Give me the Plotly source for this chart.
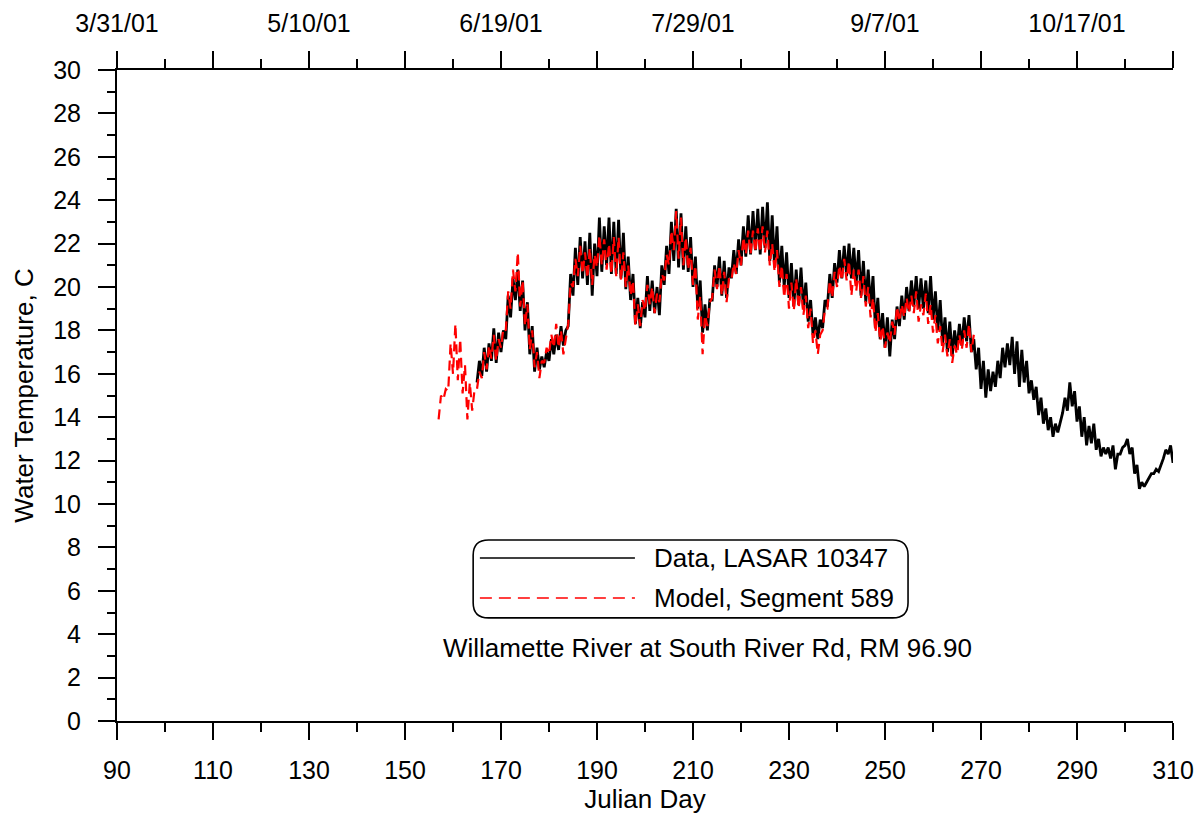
import plotly.graph_objects as go

# Daily high / low water temperature (C)
# Data, LASAR 10347 : day 165 .. 310
data_days = list(range(165, 311))
data_hi = [16.6, 17.2, 17.4, 18.1, 17.9, 18.0, 19.6, 20.4, 20.8, 20.3,
           19.3, 18.2, 17.2, 16.8, 17.0, 17.6, 17.8, 18.2, 18.0, 20.6,
           21.8, 22.3, 22.1, 22.5, 22.0, 23.2, 22.8, 23.2, 23.0, 23.1,
           22.5, 21.4, 20.6, 19.5, 19.3, 20.5, 20.3, 20.0, 21.0, 21.9,
           23.0, 23.6, 23.4, 22.8, 22.3, 21.4, 20.3, 19.2, 19.4, 21.0,
           21.4, 21.2, 20.9, 21.7, 22.2, 22.8, 23.3, 23.5, 23.6, 23.7,
           23.9, 23.3, 22.8, 21.9, 21.6, 21.1, 20.8, 20.9, 20.2, 19.4,
           18.6, 18.5, 19.4, 20.6, 21.1, 21.7, 21.9, 22.0, 21.8, 21.7,
           21.2, 20.8, 20.5, 19.5, 18.8, 18.6, 18.5, 19.1, 19.6, 20.0,
           20.3, 20.5, 20.4, 20.3, 20.5, 19.8, 19.4, 18.6, 18.4, 18.0,
           18.3, 18.6, 18.7, 17.6, 17.2, 16.6, 16.2, 16.1, 16.6, 17.2,
           17.4, 17.7, 17.5, 17.1, 16.6, 15.7, 15.4, 14.9, 14.4, 14.0,
           13.7, 13.8, 14.9, 15.6, 15.2, 14.5, 14.0, 13.6, 13.7, 13.0,
           12.6, 12.6, 12.7, 12.3, 12.6, 13.0, 12.6, 11.8, 11.0, 11.0,
           11.4, 11.6, 11.8, 12.5, 12.7, 12.2]
data_lo = [15.6, 15.9, 16.1, 16.6, 16.5, 17.0, 17.6, 18.6, 19.4, 18.9,
           18.0, 16.9, 16.1, 16.2, 16.3, 16.6, 16.9, 17.1, 17.3, 18.2,
           19.6, 20.1, 20.4, 20.1, 19.6, 20.5, 20.7, 21.0, 20.6, 20.6,
           20.4, 19.9, 19.4, 18.3, 18.1, 18.6, 18.9, 18.8, 18.7, 20.1,
           20.6, 21.2, 20.9, 20.8, 20.7, 20.0, 19.0, 17.9, 18.0, 19.4,
           20.0, 19.6, 19.5, 20.4, 20.6, 21.0, 21.4, 21.5, 21.7, 21.5,
           21.8, 21.2, 20.9, 20.2, 20.0, 19.5, 19.1, 19.2, 19.0, 18.4,
           17.8, 17.6, 18.1, 19.1, 19.5, 20.2, 20.4, 20.5, 20.4, 20.2,
           19.6, 19.3, 19.1, 18.1, 17.6, 17.2, 16.8, 17.6, 18.2, 18.5,
           18.9, 19.1, 19.0, 19.0, 18.8, 18.5, 18.0, 17.4, 17.0, 16.8,
           17.1, 17.3, 17.5, 17.0, 16.2, 15.3, 14.9, 15.2, 15.4, 15.8,
           16.3, 16.4, 16.0, 15.4, 15.6, 15.1, 14.8, 14.1, 13.7, 13.4,
           13.1, 13.3, 14.2, 14.3, 14.5, 13.8, 13.1, 12.7, 12.8, 12.5,
           12.2, 12.3, 12.1, 11.6, 12.3, 12.7, 12.3, 11.4, 10.7, 10.8,
           11.2, 11.4, 11.5, 12.1, 12.3, 11.9]

# Model, Segment 589 : day 157 .. 268
model_days = list(range(157, 269))
model_hi = [15.0, 15.3, 17.4, 18.3, 17.6, 16.4, 15.6, 15.3, 16.1, 17.0,
            17.3, 17.8, 17.6, 18.1, 19.8, 20.8, 21.6, 20.3, 19.2, 18.0,
            17.0, 16.6, 17.2, 17.8, 18.3, 18.0, 17.7, 20.2, 21.3, 21.9,
            21.6, 21.8, 21.5, 22.4, 22.2, 22.0, 22.3, 22.3, 21.6, 21.0,
            20.3, 19.2, 19.4, 20.1, 20.0, 19.7, 20.6, 21.5, 22.6, 23.5,
            23.2, 22.3, 21.8, 21.0, 19.6, 18.7, 19.3, 20.8, 21.0, 20.7,
            20.4, 21.1, 21.7, 22.3, 22.6, 22.6, 22.7, 22.8, 22.6, 22.0,
            21.7, 21.0, 20.6, 20.2, 20.4, 20.0, 19.6, 19.0, 18.0, 17.8,
            19.0, 20.3, 20.7, 21.0, 21.3, 21.2, 20.8, 20.8, 20.5, 20.0,
            19.5, 18.8, 18.2, 17.9, 18.4, 19.1, 19.2, 19.5, 19.6, 19.8,
            19.2, 19.7, 19.2, 18.7, 18.2, 17.8, 17.6, 17.3, 17.8, 18.0,
            18.3, 17.8]
model_lo = [13.9, 14.8, 15.2, 16.0, 15.7, 15.1, 13.9, 14.3, 15.3, 15.8,
            16.2, 16.7, 16.6, 17.2, 18.0, 19.0, 19.8, 19.1, 18.2, 17.1,
            16.3, 15.8, 16.5, 16.9, 17.2, 17.2, 16.9, 18.3, 20.0, 20.5,
            20.6, 20.4, 20.1, 20.9, 21.0, 20.8, 20.6, 20.5, 20.3, 20.0,
            19.6, 18.2, 18.2, 18.9, 19.2, 18.8, 19.3, 20.3, 21.0, 21.7,
            21.3, 21.0, 20.8, 20.1, 18.5, 16.9, 18.2, 19.5, 19.9, 19.6,
            19.3, 20.3, 20.6, 21.0, 21.5, 21.5, 21.6, 21.6, 21.6, 21.0,
            20.7, 20.0, 19.5, 19.0, 18.9, 19.0, 18.7, 18.1, 17.4, 16.9,
            18.0, 19.0, 19.5, 20.0, 20.3, 20.3, 19.6, 19.8, 19.5, 19.1,
            18.6, 17.9, 17.5, 17.2, 17.4, 17.8, 18.4, 18.6, 18.8, 18.8,
            18.4, 18.7, 18.3, 17.9, 17.4, 17.0, 16.8, 16.5, 16.9, 17.1,
            17.2, 17.0]

bottom_ticks = [90, 110, 130, 150, 170, 190, 210, 230, 250, 270, 290, 310]
top_ticks = [90, 110, 130, 150, 170, 190, 210, 230, 250, 270, 290, 310]
top_labels = ["3/31/01", "", "5/10/01", "", "6/19/01", "", "7/29/01", "",
              "9/7/01", "", "10/17/01", ""]


# low in the morning, high in the afternoon -> one zigzag per day
def daily_series(days, hi, lo):
    xs, ys = [], []
    for d, h, l in zip(days, hi, lo):
        xs += [d, d + 0.5]
        ys += [l, h]
    return xs, ys


FONT = "Liberation Sans, Arial, sans-serif"

dx, dy = daily_series(data_days, data_hi, data_lo)
mx, my = daily_series(model_days, model_hi, model_lo)

fig = go.Figure()
fig.add_trace(go.Scatter(x=dx, y=dy, mode="lines", name="Data, LASAR 10347",
                         line=dict(color="black", width=2.8)))
fig.add_trace(go.Scatter(x=mx, y=my, mode="lines", name="Model, Segment 589",
                         line=dict(color="red", width=2.2, dash="10px,6px")))
# dummy trace so the top date axis gets drawn
fig.add_trace(go.Scatter(x=[90], y=[None], xaxis="x2", showlegend=False,
                         hoverinfo="skip"))

axis_common = dict(showline=True, linecolor="black", linewidth=2,
                   ticks="outside", ticklen=17, tickwidth=2, tickcolor="black",
                   showgrid=False, zeroline=False, automargin=False,
                   tickfont=dict(family=FONT, size=25, color="black"))

# page body has an 8px margin, so the figure is a bit smaller than the window
fig.update_layout(
    width=1195, height=809,
    margin=dict(l=109, r=30, t=62, b=96),
    plot_bgcolor="white", paper_bgcolor="white",
    showlegend=False,
    font=dict(family=FONT, size=25, color="black"),
    xaxis=dict(range=[90, 310], tickmode="array", tickvals=bottom_ticks,
               ticklabelstandoff=9,
               minor=dict(dtick=10, tick0=90, ticks="outside", ticklen=9,
                          tickwidth=2, tickcolor="black"),
               title=dict(text="Julian Day", standoff=4,
                          font=dict(family=FONT, size=26)),
               **axis_common),
    xaxis2=dict(range=[90, 310], overlaying="x", side="top", anchor="y",
                tickmode="array", tickvals=top_ticks, ticktext=top_labels,
                ticklabelstandoff=9,
                minor=dict(dtick=10, tick0=90, ticks="outside", ticklen=9,
                           tickwidth=2, tickcolor="black"),
                **axis_common),
    yaxis=dict(range=[0, 30], dtick=2, tick0=0, ticklabelstandoff=12,
               minor=dict(dtick=1, tick0=0, ticks="outside", ticklen=8,
                          tickwidth=2, tickcolor="black"),
               title=dict(text="Water Temperature, C", standoff=12,
                          font=dict(family=FONT, size=26)),
               **axis_common),
)


# hand-drawn legend box with rounded corners
def rounded_box(x0, x1, y0, y1, rx, ry):
    return (f"M{x0 + rx},{y0} L{x1 - rx},{y0} Q{x1},{y0} {x1},{y0 + ry} "
            f"L{x1},{y1 - ry} Q{x1},{y1} {x1 - rx},{y1} "
            f"L{x0 + rx},{y1} Q{x0},{y1} {x0},{y1 - ry} "
            f"L{x0},{y0 + ry} Q{x0},{y0} {x0 + rx},{y0} Z")


fig.add_shape(type="path", xref="x", yref="y",
              path=rounded_box(164.2, 254.8, 4.75, 8.34, 3.2, 0.7),
              line=dict(color="black", width=1.6))
fig.add_shape(type="line", xref="x", yref="y", x0=165.6, x1=197.9, y0=7.51, y1=7.51,
              line=dict(color="black", width=1.6))
fig.add_shape(type="line", xref="x", yref="y", x0=165.6, x1=197.9, y0=5.67, y1=5.67,
              line=dict(color="red", width=1.6, dash="12px,7px"))
fig.add_annotation(x=201.5, y=7.51, xref="x", yref="y", text="Data, LASAR 10347",
                   showarrow=False, xanchor="left", yanchor="middle",
                   font=dict(family=FONT, size=26, color="black"))
fig.add_annotation(x=201.5, y=5.67, xref="x", yref="y", text="Model, Segment 589",
                   showarrow=False, xanchor="left", yanchor="middle",
                   font=dict(family=FONT, size=26, color="black"))
fig.add_annotation(x=213.1, y=3.36, xref="x", yref="y",
                   text="Willamette River at South River Rd, RM 96.90",
                   showarrow=False, xanchor="center", yanchor="middle",
                   font=dict(family=FONT, size=26, color="black"))

fig.write_html("out.html")
